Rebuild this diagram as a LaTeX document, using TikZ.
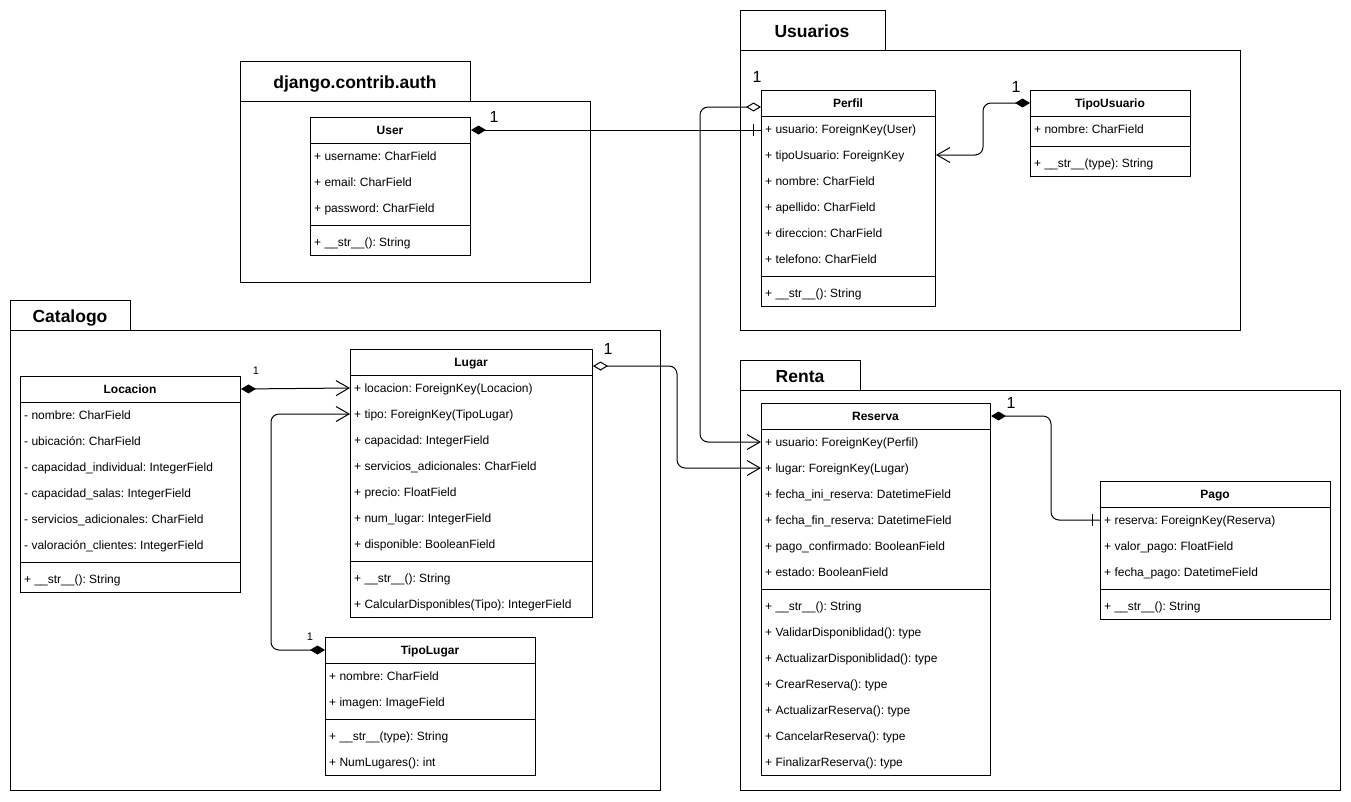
\documentclass[tikz,border=0pt]{standalone}
\usepackage{fontspec}
\setmainfont{Liberation Sans}
\usetikzlibrary{positioning,calc,arrows.meta,decorations.markings}

% one class box: name, x, y, width, title, #attrs, attrs, #methods, methods
\newcommand{\umlclass}[9]{%
  \node[classbox, minimum width=#4pt, minimum height={(34+26*#6+26*#8)*1pt}] (#1) at (#2,#3) {};
  \coordinate (#1-head) at (#2,#3+13);
  \node[classtitle] (#1-title) at (#2+#4/2,#3+17.5) {#5};
  \draw[classline] (#2,#3+26) -- ++(#4,0);
  \foreach \entry [count=\i] in {#7}{
    \coordinate (#1-r\i) at (#2,#3+13+26*\i);
    \node[classrow] (#1-a\i) at (#2+4,#3+17.5+26*\i) {\entry};
  }
  \draw[classline] (#2,#3+30+26*#6) -- ++(#4,0);
  \foreach \entry [count=\j] in {#9}{
    \node[classrow] (#1-m\j) at (#2+4,#3+25.5+26*#6+26*\j) {\entry};
  }
}

\tikzset{
  frame/.style={draw, line width=1pt},
  classbox/.style={draw, fill=white, line width=1pt, anchor=north west, inner sep=0pt},
  classline/.style={line width=1pt},
  classtitle/.style={font=\fontsize{12}{14}\selectfont\bfseries, anchor=base, inner sep=0pt},
  classrow/.style={font=\fontsize{12}{14}\selectfont\frenchspacing, anchor=base west, inner sep=0pt},
  frametitle/.style={font=\fontsize{17.5}{20}\selectfont\bfseries, anchor=base, inner sep=0pt},
  mult/.style={font=\fontsize{16}{18}\selectfont, inner sep=0pt},
  smallmult/.style={font=\fontsize{11}{13}\selectfont, inner sep=0pt},
  link/.style={line width=1pt, rounded corners=8pt},
  compto/.style={{Diamond[length=15pt,width=9pt]}-{Straight Barb[length=13pt,width=15pt]}},
  aggto/.style={{Diamond[open,length=15pt,width=9pt]}-{Straight Barb[length=13pt,width=15pt]}},
  compone/.style={{Diamond[length=15pt,width=9pt]}-,
    postaction={decorate, decoration={markings,
      mark=at position -8pt with {\draw[arrows=-, line width=1pt] (0,-6pt) -- (0,6pt);}}}}
}

\begin{document}
\begin{tikzpicture}[x=1pt, y=-1pt]
  \useasboundingbox (0,0) rectangle (1351,801);

  % packages
  \draw[frame] (240,61) rectangle (470,101);
  \draw[frame] (240,101) rectangle (590,282);
  \node[frametitle] (auth) at (355,88) {django.contrib.auth};

  \draw[frame] (740,10) rectangle (885,50);
  \draw[frame] (740,50) rectangle (1240,330);
  \node[frametitle] (usuarios) at (812,37) {Usuarios};

  \draw[frame] (10,300) rectangle (130,330);
  \draw[frame] (10,330) rectangle (660,790);
  \node[frametitle] (catalogo) at (70,322) {Catalogo};

  \draw[frame] (740,360) rectangle (860,390);
  \draw[frame] (740,390) rectangle (1340,790);
  \node[frametitle] (renta) at (800,382) {Renta};

  % classes
  \umlclass{user}{310}{117}{160}{User}{3}{+ username: CharField, + email: CharField, + password: CharField}{1}{+ \_\_str\_\_(): String}
  \umlclass{perfil}{761}{90}{174}{Perfil}{6}{+ usuario: ForeignKey(User), + tipoUsuario: ForeignKey, + nombre: CharField, + apellido: CharField, + direccion: CharField, + telefono: CharField}{1}{+ \_\_str\_\_(): String}
  \umlclass{tipousuario}{1030}{90}{160}{TipoUsuario}{1}{+ nombre: CharField}{1}{+ \_\_str\_\_(type): String}
  \umlclass{locacion}{20}{376}{220}{Locacion}{6}{- nombre: CharField, - ubicación: CharField, - capacidad\_individual: IntegerField, - capacidad\_salas: IntegerField, - servicios\_adicionales: CharField, - valoración\_clientes: IntegerField}{1}{+ \_\_str\_\_(): String}
  \umlclass{lugar}{350}{349}{242}{Lugar}{7}{+ locacion: ForeignKey(Locacion), + tipo: ForeignKey(TipoLugar), + capacidad: IntegerField, + servicios\_adicionales: CharField, + precio: FloatField, + num\_lugar: IntegerField, + disponible: BooleanField}{2}{+ \_\_str\_\_(): String, + CalcularDisponibles(Tipo): IntegerField}
  \umlclass{tipolugar}{325}{637}{210}{TipoLugar}{2}{+ nombre: CharField, + imagen: ImageField}{2}{+ \_\_str\_\_(type): String, + NumLugares(): int}
  \umlclass{reserva}{761}{403}{229}{Reserva}{6}{+ usuario: ForeignKey(Perfil), + lugar: ForeignKey(Lugar), + fecha\_ini\_reserva: DatetimeField, + fecha\_fin\_reserva: DatetimeField, + pago\_confirmado: BooleanField, + estado: BooleanField}{7}{+ \_\_str\_\_(): String, + ValidarDisponiblidad(): type, + ActualizarDisponiblidad(): type, + CrearReserva(): type, + ActualizarReserva(): type, + CancelarReserva(): type, + FinalizarReserva(): type}
  \umlclass{pago}{1100}{481}{230}{Pago}{3}{+ reserva: ForeignKey(Reserva), + valor\_pago: FloatField, + fecha\_pago: DatetimeField}{1}{+ \_\_str\_\_(): String}

  % relations
  \draw[link, compone] (user.east |- user-head) -- (perfil.west |- user-head);
  \node[mult] (m-user) at ($(user.east |- user-head)+(23,-13)$) {1};

  \draw[link, compto] (tipousuario.west |- tipousuario-head) -- ++(-47,0) |- (perfil.east |- perfil-r2);
  \node[mult] (m-tipousuario) at ($(tipousuario.west |- tipousuario-head)+(-14,-16)$) {1};

  \draw[link, aggto] ($(perfil.west |- perfil-head)+(0,4)$) -- ++(-61,0) |- (reserva.west |- reserva-r1);
  \node[mult] (m-perfil) at ($(perfil.west |- perfil-head)+(-4,-26)$) {1};

  \draw[link, compto] (locacion.east |- locacion-head) -- (lugar.west |- lugar-r1);
  \node[smallmult] (m-locacion) at ($(locacion.east |- locacion-head)+(15,-18)$) {1};

  \draw[link, compto] (tipolugar.west |- tipolugar-head) -- ++(-54,0) |- (lugar.west |- lugar-r2);
  \node[smallmult] (m-tipolugar) at ($(tipolugar.west |- tipolugar-head)+(-15,-13)$) {1};

  \draw[link, aggto] ($(lugar.east |- lugar-head)+(0,4)$) -- ++(84,0) |- (reserva.west |- reserva-r2);
  \node[mult] (m-lugar) at ($(lugar.east |- lugar-head)+(15,-13)$) {1};

  \draw[link, compone] (reserva.east |- reserva-head) -- ++(60,0) |- (pago.west |- pago-r1);
  \node[mult] (m-reserva) at ($(reserva.east |- reserva-head)+(20,-13)$) {1};
\end{tikzpicture}
\end{document}
